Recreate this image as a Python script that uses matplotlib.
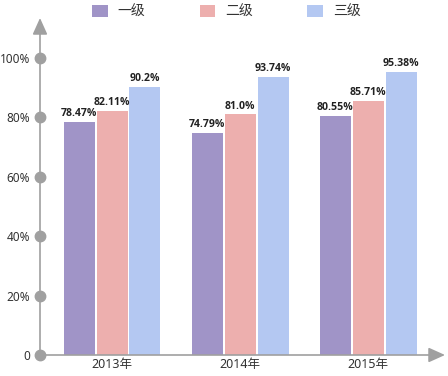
import matplotlib.pyplot as plt
from matplotlib.patches import Patch

# ==============================
# DATA
# ==============================
YEARS = ["2013年", "2014年", "2015年"]
SERIES_NAMES = ["一级", "二级", "三级"]
LEVEL_1 = [78.47, 74.79, 80.55]
LEVEL_2 = [82.11, 81.0, 85.71]
LEVEL_3 = [90.2, 93.74, 95.38]
LABELS_1 = ["78.47%", "74.79%", "80.55%"]
LABELS_2 = ["82.11%", "81.0%", "85.71%"]
LABELS_3 = ["90.2%", "93.74%", "95.38%"]
Y_TICKS = [0, 20, 40, 60, 80, 100]
Y_TICK_LABELS = ["0", "20%", "40%", "60%", "80%", "100%"]

COLORS = ["#a094c7", "#edafae", "#b4c8f2"]
AXIS_GRAY = "#a0a0a0"
TEXT_COLOR = "#333333"

plt.rcParams['font.family'] = ['Noto Sans', 'Noto Sans CJK SC', 'DejaVu Sans']


def plot_chart(output_file):
    fig = plt.figure(figsize=(4.48, 3.76), dpi=100)
    ax = fig.add_axes([40 / 448, 21 / 376, 405 / 448, 337 / 376])

    x = list(range(len(YEARS)))
    width = 0.242
    offset = 0.257
    all_values = [LEVEL_1, LEVEL_2, LEVEL_3]
    all_labels = [LABELS_1, LABELS_2, LABELS_3]

    for i, (values, labels) in enumerate(zip(all_values, all_labels)):
        pos = [xi + (i - 1) * offset for xi in x]
        bars = ax.bar(pos, values, width=width, color=COLORS[i], zorder=2)
        ax.bar_label(bars, labels=labels, padding=2, fontsize=7.6,
                     fontweight='bold', family=['Open Sans', 'DejaVu Sans'],
                     color="#222222")

    ax.set_xlim(-0.5625, 2.60)
    ax.set_ylim(0, 113.5)

    for side in ["top", "right", "left", "bottom"]:
        ax.spines[side].set_visible(False)

    # axis lines with arrows
    arrow = dict(arrowstyle="-|>,head_length=1.0,head_width=0.45",
                 color=AXIS_GRAY, lw=1.2, shrinkA=0, shrinkB=0)
    ax.annotate("", xy=(0, 1), xytext=(0, 0), xycoords="axes fraction",
                arrowprops=arrow)
    ax.annotate("", xy=(1, 0), xytext=(0, 0), xycoords="axes fraction",
                arrowprops=arrow)

    # round tick markers on the y axis
    ax.plot([-0.5625] * len(Y_TICKS), Y_TICKS, "o", color=AXIS_GRAY,
            markersize=7.5, clip_on=False, zorder=3)

    ax.set_yticks(Y_TICKS)
    ax.set_yticklabels(Y_TICK_LABELS, fontsize=8.5, color=TEXT_COLOR)
    ax.set_xticks(x)
    ax.set_xticklabels(YEARS, fontsize=9, color=TEXT_COLOR)
    ax.tick_params(axis="y", length=0, pad=7)
    ax.tick_params(axis="x", length=0, pad=2)

    handles = [Patch(facecolor=c, edgecolor="none") for c in COLORS]
    fig.legend(handles, SERIES_NAMES, loc="upper center", bbox_to_anchor=(0.505, 1.02),
               ncol=3, frameon=False, fontsize=10, handlelength=1.15,
               handleheight=1.0, handletextpad=0.7, columnspacing=3.9,
               labelcolor=TEXT_COLOR)

    fig.savefig(output_file, dpi=100)


if __name__ == "__main__":
    plot_chart("out.png")
